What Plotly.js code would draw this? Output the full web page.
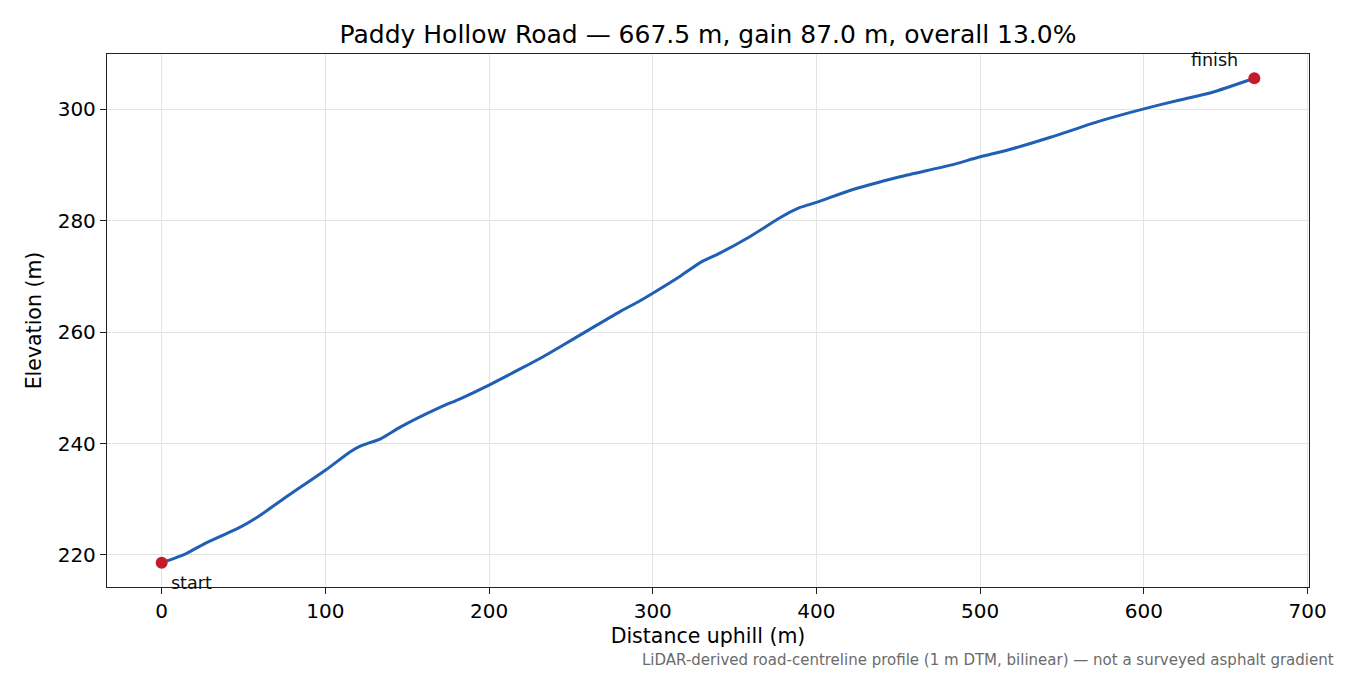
<!DOCTYPE html>
<html>
<head>
<meta charset="utf-8">
<script src="https://cdn.plot.ly/plotly-3.0.1.min.js"></script>
<style>
  html, body { margin: 0; padding: 0; background: #fff; }
  #chart { width: 1350px; height: 675px; }
</style>
</head>
<body>
<div id="chart"></div>
<script>
// Elevation profile.
const distance = [0, 14, 26, 48, 60, 78, 100, 115, 121, 134, 146, 170, 182, 200, 219, 233, 243, 262, 280, 292,
  300, 317, 329, 341, 359, 378, 390, 400, 420, 451, 482, 499, 518, 543, 573, 600, 622, 641, 667.5];
const elevation = [218.6, 220.1, 222.0, 225.0, 227.1, 230.8, 235.2, 238.5, 239.5, 240.9, 243.0, 246.5, 248.0, 250.5, 253.4, 255.6, 257.3, 260.6, 263.7, 265.6,
  267.0, 270.1, 272.5, 274.2, 277.1, 280.6, 282.4, 283.3, 285.4, 287.9, 290.0, 291.4, 292.8, 295.0, 297.9, 300.1, 301.7, 303.0, 305.6];

const endX = [distance[0], distance[distance.length - 1]];
const endY = [elevation[0], elevation[elevation.length - 1]];

const FONT = 'DejaVu Sans, sans-serif';
const BLUE = '#1f5fb4';
const RED = '#c41b2b';

const traces = [
  {
    x: distance,
    y: elevation,
    type: 'scatter',
    mode: 'lines',
    line: { color: BLUE, width: 3, shape: 'spline', smoothing: 0.6 },
    hoverinfo: 'skip',
  },
  {
    x: endX,
    y: endY,
    type: 'scatter',
    mode: 'markers',
    marker: { color: RED, size: 12 },
    hoverinfo: 'skip',
  },
];

const axisBase = {
  showline: true,
  mirror: true,
  linecolor: '#222',
  linewidth: 1.3,
  ticks: 'outside',
  ticklen: 6,
  tickwidth: 1.3,
  tickcolor: '#222',
  showgrid: true,
  gridcolor: '#e4e4e4',
  gridwidth: 1.2,
  zeroline: false,
  tickfont: { family: FONT, size: 20, color: '#000' },
};

const layout = {
  width: 1350,
  height: 675,
  paper_bgcolor: '#fff',
  plot_bgcolor: '#fff',
  showlegend: false,
  margin: { l: 107, r: 41, t: 54, b: 88 },
  font: { family: FONT, color: '#000' },
  title: {
    text: 'Paddy Hollow Road — 667.5 m, gain 87.0 m, overall 13.0%',
    font: { family: FONT, size: 25, color: '#000' },
    xref: 'paper', x: 0.5, xanchor: 'center', y: 0.95, yanchor: 'middle',
  },
  xaxis: {
    ...axisBase,
    range: [-33.4, 700.9],
    dtick: 100,
    title: { text: 'Distance uphill (m)', font: { family: FONT, size: 20.5 }, standoff: 6 },
  },
  yaxis: {
    ...axisBase,
    range: [214.25, 309.95],
    dtick: 20,
    title: { text: 'Elevation (m)', font: { family: FONT, size: 20.5 }, standoff: 10 },
  },
  annotations: [
    {
      x: endX[0], y: endY[0], xref: 'x', yref: 'y',
      text: 'start', showarrow: false,
      xanchor: 'left', yanchor: 'middle', xshift: 7, yshift: -20,
      font: { family: FONT, size: 17.5, color: '#111' },
    },
    {
      x: endX[1], y: endY[1], xref: 'x', yref: 'y',
      text: 'finish', showarrow: false,
      xanchor: 'center', yanchor: 'middle', xshift: -40, yshift: 18,
      font: { family: FONT, size: 17.5, color: '#111' },
    },
    {
      x: 1, y: 0, xref: 'paper', yref: 'paper',
      text: 'LiDAR-derived road-centreline profile (1 m DTM, bilinear) — not a surveyed asphalt gradient',
      showarrow: false,
      font: { family: FONT, size: 15, color: '#6b6b6b' },
    },
  ],
};

// footnote is placed in pixel terms relative to the figure
const plotW = 1350 - 107 - 41, plotH = 675 - 54 - 88;
layout.annotations[2].x = (1336 - 107) / plotW;
layout.annotations[2].y = (675 - 88 - 660) / plotH;
layout.annotations[2].xanchor = 'right';
layout.annotations[2].yanchor = 'middle';

Plotly.newPlot('chart', traces, layout, { displayModeBar: false, responsive: false });
</script>
</body>
</html>
